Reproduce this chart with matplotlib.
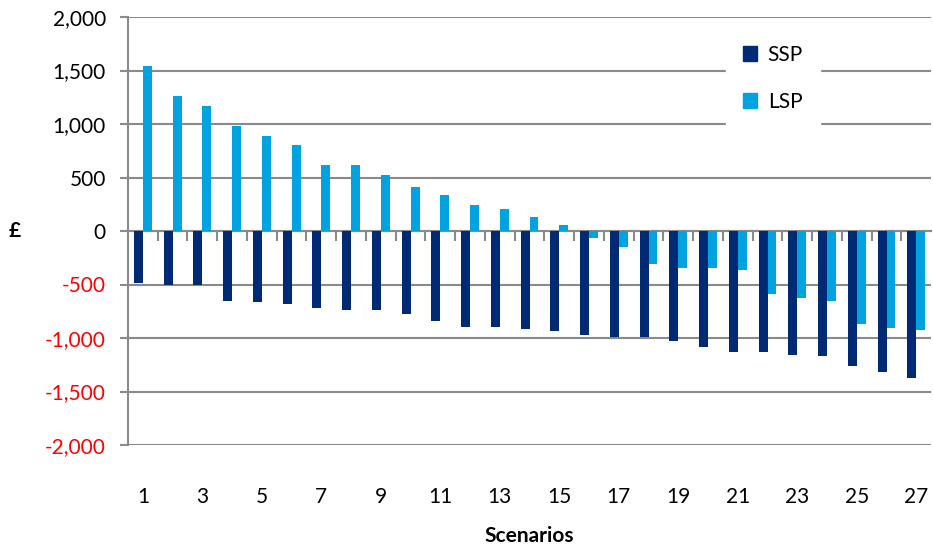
import numpy as np
import matplotlib
matplotlib.use("Agg")
import matplotlib.pyplot as plt
from matplotlib.patches import Patch
from matplotlib.ticker import FuncFormatter, NullFormatter

plt.rcParams['font.family'] = ['Lato', 'DejaVu Sans']

# Scenario results (£)
scenarios = list(range(1, 28))
ssp = [-485, -505, -505, -650, -665, -685, -720, -740, -740, -780,
       -840, -895, -895, -915, -935, -970, -990, -990, -1025, -1080,
       -1135, -1135, -1155, -1170, -1265, -1320, -1375]
lsp = [1540, 1260, 1170, 985, 890, 800, 615, 615, 520, 410,
       335, 245, 205, 130, 55, -65, -145, -310, -345, -345,
       -360, -590, -630, -650, -870, -910, -925]

ssp_color = '#002A74'
lsp_color = '#00A3E0'
grid_color = '#8A8A8A'

fig = plt.figure(figsize=(9.33, 5.48), dpi=100)
ax = fig.add_axes([128 / 933, 1 - 445 / 548, 1 - 128 / 933 - 0.002, (445 - 17) / 548])

x = np.array(scenarios)
w = 0.3
ax.bar(x - w / 2, ssp, width=w, color=ssp_color, zorder=3, label='SSP')
ax.bar(x + w / 2, lsp, width=w, color=lsp_color, zorder=3, label='LSP')

ax.set_xlim(0.5, 27.5)
ax.set_ylim(-2000, 2000)
ax.set_yticks(np.arange(-2000, 2001, 500))
ax.yaxis.set_major_formatter(FuncFormatter(lambda v, p: f'{int(v):,}'))
ax.grid(axis='y', color=grid_color, linewidth=1.5, zorder=0)
ax.set_axisbelow(True)

for s in ['top', 'right', 'bottom']:
    ax.spines[s].set_visible(False)
ax.spines['left'].set_color(grid_color)
ax.spines['left'].set_linewidth(1.5)
ax.tick_params(axis='y', colors=grid_color, length=6, width=1.5, labelsize=15, pad=10)
for lbl, v in zip(ax.get_yticklabels(), ax.get_yticks()):
    lbl.set_color('red' if v < 0 else 'black')

# category labels sit under the plot area
ax.set_xticks(x[::2])
ax.set_xticklabels([str(s) for s in scenarios[::2]])
ax.tick_params(axis='x', length=0, labelsize=15, pad=30)

# zero line with tick marks between categories
zero = ax.secondary_xaxis(0.5)
zero.set_xticks(np.arange(1.5, 27.5, 1))
zero.xaxis.set_major_formatter(NullFormatter())
zero.xaxis.set_ticks_position('bottom')
zero.tick_params(axis='x', direction='out', length=7, width=1.5, color=grid_color,
                 labelbottom=False, labeltop=False)
for s in zero.spines.values():
    s.set_color(grid_color)
    s.set_linewidth(1.5)

ax.set_xlabel('Scenarios', fontsize=15, fontweight='bold', labelpad=14)
ax.set_ylabel('£', fontsize=15, fontweight='bold', rotation=0, labelpad=22, va='center')

handles = [Patch(color=ssp_color, label='SSP'), Patch(color=lsp_color, label='LSP')]
leg = ax.legend(handles=handles, loc='upper left', bbox_to_anchor=(726 / 933, 1 - 28 / 548),
                bbox_transform=fig.transFigure, fontsize=15, frameon=True, fancybox=False,
                facecolor='white', edgecolor='white', framealpha=1, handlelength=0.7,
                handleheight=0.7, handletextpad=0.5, labelspacing=1.3, borderpad=0.8,
                borderaxespad=0)
leg.set_zorder(5)

fig.savefig('out.png', dpi=100)
